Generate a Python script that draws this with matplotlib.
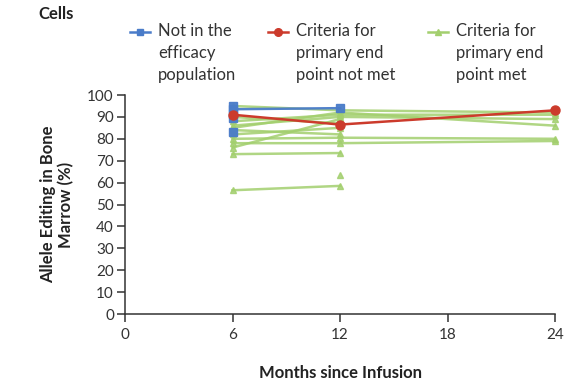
import numpy as np
import matplotlib.pyplot as plt
from matplotlib.lines import Line2D

plt.rcParams['font.family'] = ['Lato', 'DejaVu Sans']

months = [6, 12, 24]

# allele editing (%) per patient at 6, 12 and 24 months; nan = no sample
green_pts = [
    [95.0, 93.0, 92.0],
    [88.0, 91.0, 91.0],
    [86.0, 90.0, 89.0],
    [85.0, 92.0, 86.0],
    [90.0, 87.0, np.nan],
    [84.0, 82.0, np.nan],
    [82.0, 85.0, np.nan],
    [80.0, 80.5, 80.0],
    [78.0, 78.0, 79.0],
    [76.0, 89.0, np.nan],
    [73.0, 73.5, np.nan],
    [56.5, 58.5, np.nan],
    [np.nan, 63.5, np.nan],
]
blue_pts = [
    [93.5, 94.0, np.nan],
    [95.0, np.nan, np.nan],
    [91.5, np.nan, np.nan],
    [89.5, np.nan, np.nan],
    [83.0, np.nan, np.nan],
]
red_pts = [
    [91.0, 86.5, 93.0],
]

legend_labels = ["Not in the\nefficacy\npopulation",
                 "Criteria for\nprimary end\npoint not met",
                 "Criteria for\nprimary end\npoint met"]

green = '#a3cf6e'
blue = '#4a7cc9'
red = '#cc3b2c'

W, H = 577, 391
fig = plt.figure(figsize=(W / 100, H / 100), dpi=100)
ax = fig.add_axes([125 / W, 1 - 314 / H, 430 / W, 219 / H])

styles = [(blue, 's', 6), (red, 'o', 6.5), (green, '^', 5)]

def draw(rows, color, marker, ms, alpha):
    for r in rows:
        r = np.array(r)
        ok = ~np.isnan(r)
        x = np.array(months)[ok]
        ax.plot(x, r[ok], color=color, marker=marker, ms=ms, lw=1.8,
                alpha=alpha, clip_on=False)

draw(green_pts, green, '^', 5, 0.85)
draw(blue_pts, blue, 's', 6, 0.95)
draw(red_pts, red, 'o', 6.5, 1.0)

ax.set_xlim(0, 24)
ax.set_ylim(0, 100)
ax.set_xticks([0, 6, 12, 18, 24])
ax.set_yticks(range(0, 101, 10))
ax.spines['top'].set_visible(False)
ax.spines['right'].set_visible(False)
for s in ('left', 'bottom'):
    ax.spines[s].set_linewidth(1.1)
    ax.spines[s].set_color('#333333')
ax.tick_params(axis='both', direction='out', length=6, width=1.1,
               color='#333333', labelsize=11, labelcolor='#333333', pad=2)
ax.tick_params(axis='x', pad=4)

ax.set_xlabel('Months since Infusion', fontsize=12, fontweight='bold',
              color='#222222', labelpad=17)
ax.set_ylabel('Allele Editing in Bone\nMarrow (%)', fontsize=12,
              fontweight='bold', color='#222222', labelpad=9)

fig.text(38 / W, 1 - 14 / H, 'Cells', fontsize=12, fontweight='bold',
         color='#222222', va='center')

# legend drawn by hand so the key sits beside the first text line
legend_x = [130, 268, 428]
for x0, (c, m, ms), lab in zip(legend_x, styles, legend_labels):
    yk = 1 - 32 / H
    fig.add_artist(Line2D([x0 / W, (x0 + 20) / W], [yk, yk], color=c,
                          lw=1.8, transform=fig.transFigure))
    fig.add_artist(Line2D([(x0 + 10) / W], [yk], color=c, marker=m, ms=ms - 1,
                          transform=fig.transFigure))
    fig.text((x0 + 28) / W, 1 - 23 / H, lab, fontsize=12, color='#333333',
             va='top', ha='left', linespacing=1.45)

fig.savefig('out.png', dpi=100)
